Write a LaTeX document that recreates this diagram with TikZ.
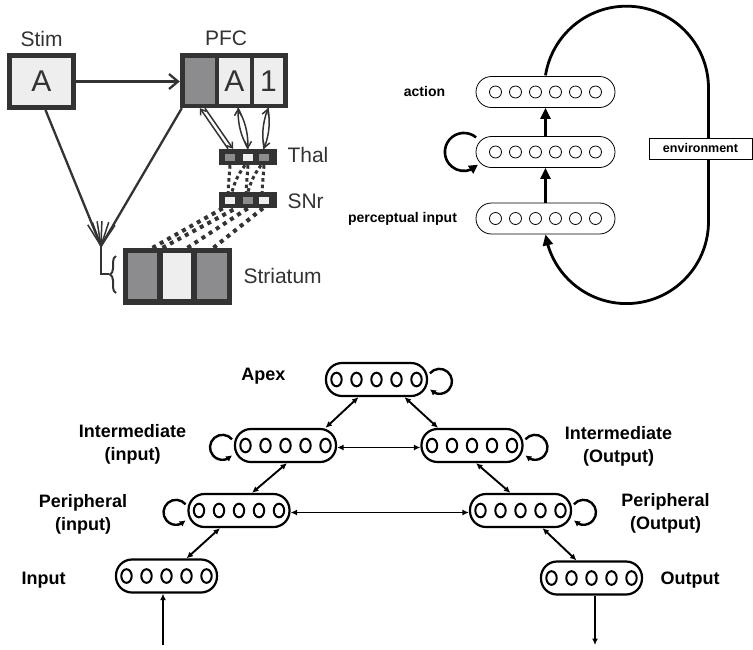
\documentclass[tikz,border=0pt]{standalone}
\usepackage{fontspec}
\setmainfont{Liberation Sans}
\usetikzlibrary{arrows.meta,calc,bending,decorations.pathreplacing}
\definecolor{ink}{HTML}{333333}
\definecolor{cdark}{HTML}{8C8C8E}
\definecolor{clight}{HTML}{EEEEEE}
\begin{document}
\begin{tikzpicture}[x=1pt,y=-1pt,
  % basal ganglia model
  pbox/.style={draw=ink, line width=5pt, fill=clight, inner sep=0pt, text=ink,
    font=\fontsize{30}{30}\selectfont},
  frame/.style={fill=ink, inner sep=0pt},
  cell/.style={inner sep=0pt, text=ink, font=\fontsize{30}{30}\selectfont},
  plabel/.style={text=ink, font=\fontsize{21}{21}\selectfont},
  proj/.style={draw=ink, line width=2.3pt},
  barb/.style={draw=ink, line width=1.5pt},
  inhib/.style={draw=ink, line width=3pt, dash pattern=on 3.5pt off 3pt},
  dotproj/.style={draw=ink, line width=4pt, dash pattern=on 4pt off 4.5pt},
  % recurrent network
  layer/.style={draw, line width=0.8pt, rounded corners=15.5pt, minimum width=139pt,
    minimum height=31pt, inner sep=0pt},
  tlabel/.style={font=\bfseries\fontsize{14}{14}\selectfont},
  fwd/.style={line width=2.6pt, -{Triangle[length=11pt,width=10pt]}},
  % hierarchy
  mod/.style={draw, line width=2.2pt, rounded corners=16pt, minimum width=101pt,
    minimum height=33pt, inner sep=0pt},
  ring/.style={line width=2pt},
  blabel/.style={font=\bfseries\fontsize{18}{23}\selectfont, align=center},
  link/.style={line width=1.9pt, {Latex[length=6.5pt,width=6pt]}-{Latex[length=6.5pt,width=6pt]}},
  feed/.style={line width=1.9pt, -{Latex[length=6.5pt,width=6pt]}},
  selfloop/.style={line width=2.4pt, -{Latex[length=6pt,width=6.5pt,flex]}}
]
\useasboundingbox (0,0) rectangle (753,649);

%% ---------------- basal ganglia / PFC ----------------
\node[pbox, minimum width=64pt, minimum height=52pt] (stim) at (41.5,81.5) {A};
\node[plabel] (stimlab) at (41.5,39) {Stim};

\node[frame, minimum width=108pt, minimum height=55pt] (pfc) at (234,80.5) {};
\node[cell, fill=cdark, minimum width=30pt, minimum height=46pt] (pfcg) at (200,81) {};
\node[cell, fill=clight, minimum width=31pt, minimum height=46pt] (pfca) at (234.5,81) {A};
\node[cell, fill=clight, minimum width=29pt, minimum height=46pt] (pfcn) at (268.5,81) {1};
\node[plabel] (pfclab) at (226,38) {PFC};

\node[frame, minimum width=58pt, minimum height=16pt] (thal) at (248,157) {};
\node[cell, fill=cdark, minimum width=10pt, minimum height=7pt] (th1) at (230,157) {};
\node[cell, fill=clight, minimum width=10pt, minimum height=7pt] (th2) at (248,157) {};
\node[cell, fill=cdark, minimum width=10pt, minimum height=7pt] (th3) at (264,157) {};
\node[plabel, anchor=west] (thallab) at (284,155) {Thal};

\node[frame, minimum width=58pt, minimum height=16pt] (snr) at (248,200) {};
\node[cell, fill=clight, minimum width=10pt, minimum height=7pt] (sn1) at (230,200) {};
\node[cell, fill=cdark, minimum width=10pt, minimum height=7pt] (sn2) at (248,200) {};
\node[cell, fill=clight, minimum width=10pt, minimum height=7pt] (sn3) at (264,200) {};
\node[plabel, anchor=west] (snrlab) at (284,201) {SNr};

\node[frame, minimum width=109pt, minimum height=57pt] (str) at (177.5,276.5) {};
\node[cell, fill=cdark, minimum width=29pt, minimum height=46pt] (st1) at (142.5,276) {};
\node[cell, fill=clight, minimum width=28pt, minimum height=46pt] (st2) at (177,276) {};
\node[cell, fill=cdark, minimum width=30pt, minimum height=46pt] (st3) at (212,276) {};
\node[plabel, anchor=west] (strlab) at (240,276) {Striatum};

% stimulus to PFC
\draw[proj, -{Straight Barb[length=9pt,width=15pt]}] (stim.east) -- (stim.east -| pfc.west);

% converging input to striatum
\coordinate (conv) at (101,246);
\coordinate (knee) at (101,274);
\coordinate (brtip) at (109,274);
\draw[proj] ([xshift=4pt]stim.south) -- (conv);
\draw[proj] ([xshift=2pt]pfc.south west) -- (conv);
\foreach \a in {-122,-110,-99,-88,-72,-56}
  \draw[barb] (conv) -- ++(\a:25);
\draw[proj, line width=1.8pt] (conv) -- (knee) -- (brtip);
\draw[draw=ink, line width=2pt, decorate, decoration={brace, amplitude=6pt}]
  (116,293) -- (116,256);

% PFC <-> thalamus loops
\draw[barb, -{Straight Barb[length=5pt,width=7pt]}] ([xshift=-20pt]thal.north) -- ([xshift=-34pt]pfc.south);
\draw[barb, -{Straight Barb[length=5pt,width=7pt]}] ([xshift=-29pt]pfc.south) -- ([xshift=-15pt]thal.north);
\draw[barb, -{Straight Barb[length=6pt,width=7pt]}] ([xshift=0pt]thal.north) to[bend left=14] ([xshift=4pt]pfc.south);
\draw[barb, -{Straight Barb[length=6pt,width=7pt]}] ([xshift=4pt]pfc.south) to[bend left=14] ([xshift=0pt]thal.north);
\draw[barb, -{Straight Barb[length=6pt,width=7pt]}] ([xshift=16pt]thal.north) to[bend left=14] ([xshift=34pt]pfc.south);
\draw[barb, -{Straight Barb[length=6pt,width=7pt]}] ([xshift=34pt]pfc.south) to[bend left=14] ([xshift=16pt]thal.north);

% SNr -> thalamus
\foreach \s in {-18,0,16}
  \draw[inhib] ([xshift=\s pt]thal.south) -- ([xshift=\s pt - 2pt]snr.north);
\foreach \s in {0,16}
  \draw[inhib] ([xshift=\s pt - 3pt]thal.south) to[bend right=10] ([xshift=\s pt - 16pt]snr.north);

% striatum -> SNr
\draw[dotproj] ([xshift=-25pt]str.north) -- ([xshift=-25pt]snr.south);
\draw[dotproj] ([xshift=-15pt]str.north) -- ([xshift=-12pt]snr.south);
\draw[dotproj] ([xshift=10pt]str.north) -- ([xshift=0pt]snr.south);
\draw[dotproj] ([xshift=36pt]str.north) -- ([xshift=15pt]snr.south);

%% ---------------- recurrent network with environment ----------------
\node[layer] (act) at (545.5,92) {};
\node[layer] (hid) at (545.5,152) {};
\node[layer] (per) at (545.5,218.5) {};
\foreach \n in {act,hid,per}
  \foreach \k in {-50,-30,-10,10,30,50}
    \draw[line width=0.8pt] ($(\n)+(\k,0)$) circle[radius=6];
\node[tlabel] (actlab) at (424.5,91) {action};
\node[tlabel] (perlab) at (402.5,219) {perceptual input};

\draw[fwd] (per.north) -- (hid.south);
\draw[fwd] (hid.north) -- (act.south);
\draw[line width=2.6pt, -{Triangle[length=9pt,width=9pt,flex]}]
  ($(hid.west)+(0.5,-14.6)$) arc[start angle=-50, end angle=-318, radius=19];

\draw[line width=2.8pt, {Triangle[length=11pt,width=10pt]}-]
  (per.south) arc[start angle=171, end angle=0, radius=82]
  -- ++(0,-133.4) arc[start angle=0, end angle=-171, radius=82];
\node[draw, fill=white, line width=0.8pt, minimum width=103pt, minimum height=21pt,
  inner sep=0pt, font=\bfseries\fontsize{12.5}{12.5}\selectfont] (env) at (700.5,148.5) {environment};

%% ---------------- hierarchical network ----------------
\node[mod] (apx) at (376.5,379.5) {};
\node[mod] (iin) at (285.5,445.5) {};
\node[mod] (iout) at (472,445.5) {};
\node[mod] (pin) at (239,510.5) {};
\node[mod] (pout) at (520.5,510.5) {};
\node[mod] (inp) at (166.5,576) {};
\node[mod] (outp) at (591.5,578) {};
\foreach \n in {apx,iin,iout,pin,pout,inp,outp}
  \foreach \k in {-40,-20,0,20,40}
    \draw[ring] ($(\n)+(\k,0)$) ellipse[x radius=5.2, y radius=6.8];

\node[blabel] (apxlab) at (263.5,376) {Apex};
\node[blabel] (iinlab) at (132.5,444) {Intermediate\\(input)};
\node[blabel] (ioutlab) at (618.5,446.5) {Intermediate\\(Output)};
\node[blabel] (pinlab) at (83,514) {Peripheral\\(input)};
\node[blabel] (poutlab) at (665.5,513) {Peripheral\\(Output)};
\node[blabel] (inplab) at (43.5,580) {Input};
\node[blabel] (outplab) at (690,580) {Output};

\draw[link] ([xshift=40pt]iin.north) -- ([xshift=-18pt]apx.south);
\draw[link] ([xshift=28pt]apx.south) -- ([xshift=-34pt]iout.north);
\draw[link] ([xshift=13pt]pin.north) -- ([xshift=1.5pt]iin.south);
\draw[link] ([xshift=4pt]iout.south) -- ([xshift=-10pt]pout.north);
\draw[link] ([xshift=20pt]inp.north) -- ([xshift=-19pt]pin.south);
\draw[link] ([xshift=22pt]pout.south) -- ([xshift=-15pt]outp.north);
\draw[link] ([yshift=-2pt]iin.east) -- ([yshift=-2pt]iout.west);
\draw[link] ([yshift=-2pt]pin.east) -- ([yshift=-2pt]pout.west);

\draw[selfloop] ($(apx.east)+(1.8,-6.2)$) arc[start angle=-140, end angle=140, radius=12.5];
\draw[selfloop] ($(iout.east)+(1.8,-6.2)$) arc[start angle=-140, end angle=140, radius=12.5];
\draw[selfloop] ($(pout.east)+(1.8,-6.2)$) arc[start angle=-140, end angle=140, radius=12.5];
\draw[selfloop] ($(iin.west)+(-1.8,-6.2)$) arc[start angle=-40, end angle=-320, radius=12.5];
\draw[selfloop] ($(pin.west)+(-1.8,-6.2)$) arc[start angle=-40, end angle=-320, radius=12.5];

\coordinate (src) at (163,645);
\coordinate (snk) at (595,645);
\draw[feed] (src) -- (src |- inp.south);
\draw[feed] (outp.south -| snk) -- (snk);
\end{tikzpicture}
\end{document}
